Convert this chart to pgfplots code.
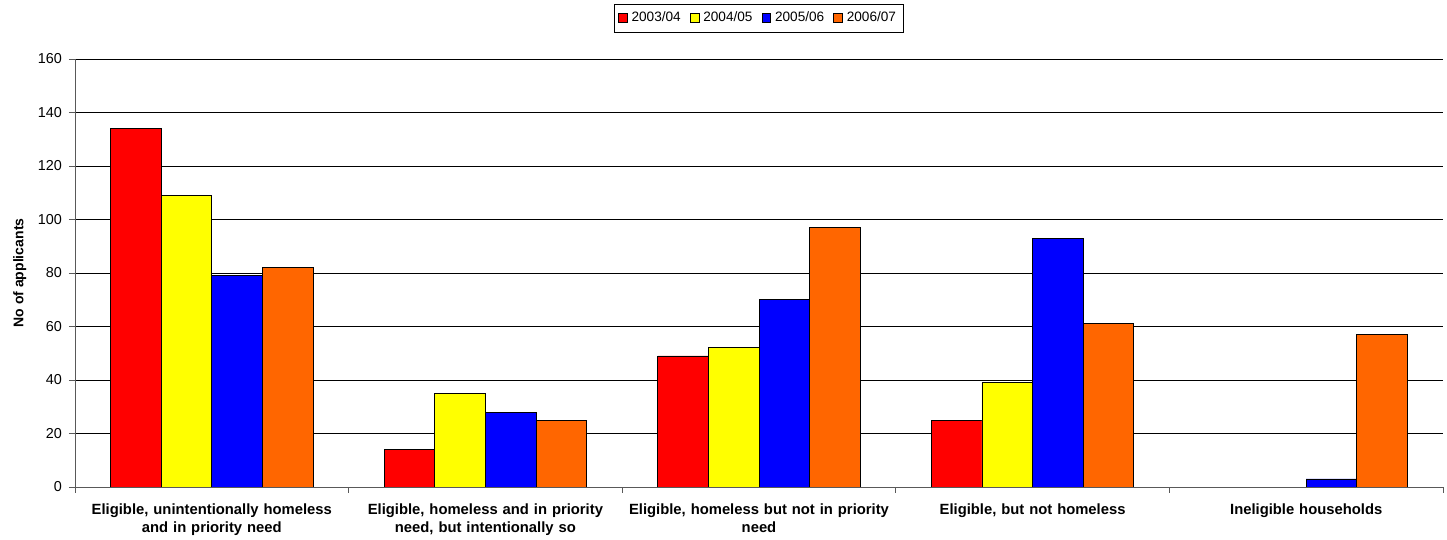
\documentclass[border=0pt]{standalone}
\usepackage{fontspec}
\setmainfont{Liberation Sans}
\usepackage{pgfplots}
\pgfplotsset{compat=1.18}
\definecolor{cRed}{HTML}{FF0000}
\definecolor{cYel}{HTML}{FFFF00}
\definecolor{cBlu}{HTML}{0000FF}
\definecolor{cOra}{HTML}{FF6600}
\begin{document}
\begin{tikzpicture}
\begin{axis}[
  at={(0,0)}, anchor=south west,
  scale only axis,
  width=684pt, height=214pt,
  xmin=-0.5, xmax=4.5,
  ymin=0, ymax=160,
  ytick={0,20,...,160},
  xtick={0,1,2,3,4},
  xticklabels={{Eligible, unintentionally homeless\\and in priority need},
               {Eligible, homeless and in priority\\need, but intentionally so},
               {Eligible, homeless but not in priority\\need},
               {Eligible, but not homeless},
               {Ineligible households}},
  minor xtick={-0.5,0.5,...,4.5},
  tick align=outside,
  major tick length=3pt,
  minor tick length=3pt,
  x tick style={draw=none},
  minor x tick style={draw=gray!70!black, thin},
  y tick style={draw=gray!70!black, thin},
  axis x line*=bottom,
  axis y line*=left,
  axis line style={draw=gray!70!black, thin, -},
  ymajorgrids,
  major grid style={draw=black, thin},
  xticklabel style={align=center, text width=140pt, font=\bfseries\fontsize{7.4}{9}\selectfont, yshift=-2pt},
  yticklabel style={font=\fontsize{7.2}{8}\selectfont},
  /pgf/number format/assume math mode=true,
  ylabel={\bfseries No of applicants},
  ylabel style={font=\fontsize{7}{8}\selectfont, yshift=-1pt},
  ybar,
  bar width=0.185,
  legend columns=4,
  legend style={at={(0.5,1)}, anchor=south, yshift=13pt, draw=black, thin,
    font=\fontsize{6.8}{8}\selectfont, inner sep=1.8pt,
    /tikz/every even column/.append style={column sep=2.5pt}},
  legend image code/.code={\draw[#1,draw=black,thin] (0pt,-2pt) rectangle (4.4pt,2.4pt);},
]
\addplot[fill=cRed, draw=black, thin, bar shift=-0.2775] coordinates {(0,134) (1,14) (2,49) (3,25)};
\addlegendentry{2003/04}
\addplot[fill=cYel, draw=black, thin, bar shift=-0.0925] coordinates {(0,109) (1,35) (2,52) (3,39)};
\addlegendentry{2004/05}
\addplot[fill=cBlu, draw=black, thin, bar shift=0.0925] coordinates {(0,79) (1,28) (2,70) (3,93) (4,3)};
\addlegendentry{2005/06}
\addplot[fill=cOra, draw=black, thin, bar shift=0.2775] coordinates {(0,82) (1,25) (2,97) (3,61) (4,57)};
\addlegendentry{2006/07}
\end{axis}
\pgfresetboundingbox
\path[use as bounding box] (-37.5pt,-26.5pt) rectangle (686pt,243.5pt);
\end{tikzpicture}
\end{document}
